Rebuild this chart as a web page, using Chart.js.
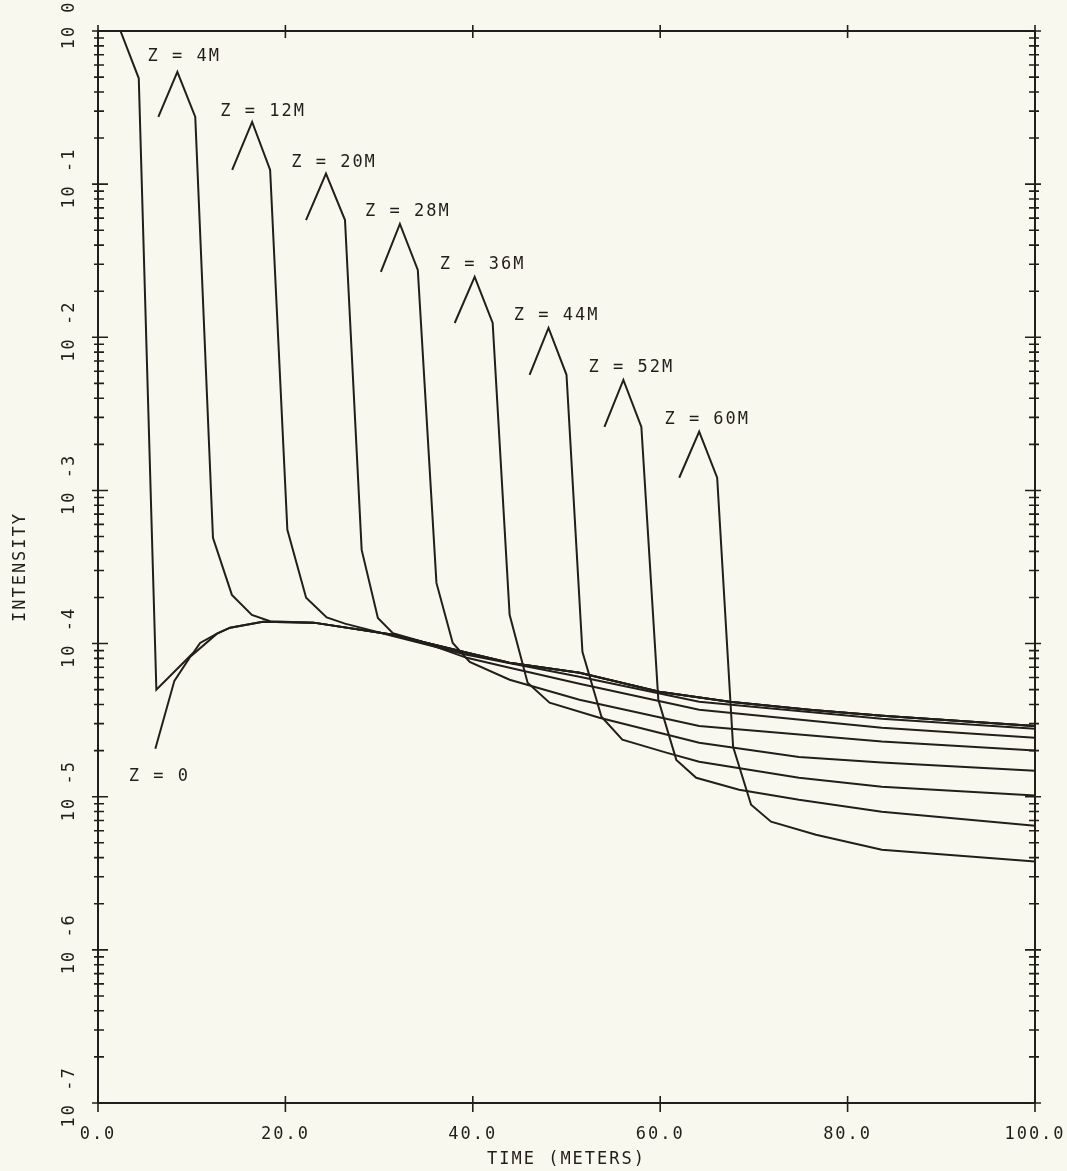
<!DOCTYPE html>
<html>
<head>
<meta charset="utf-8">
<script src="https://cdn.jsdelivr.net/npm/chart.js@4.4.1/dist/chart.umd.min.js"></script>
<style>
  html, body { margin: 0; padding: 0; background: #f9f8ee; }
  canvas { display: block; }
</style>
</head>
<body>
<canvas id="chart" width="1067" height="1171"></canvas>
<script>
// axis ticks
const xTicks = [0, 20, 40, 60, 80, 100];
const yDecades = [-7, -6, -5, -4, -3, -2, -1, 0];

// common tail that the early curves run into (time in m, intensity)
const envT = [10.9, 12.7, 14.1, 17.6, 23.0, 31.5, 39.4, 43.9, 51.4, 59.9, 67.4, 75.9, 83.7, 100];
const envV = [1.01e-4, 1.16e-4, 1.27e-4, 1.39e-4, 1.37e-4, 1.14e-4, 8.71e-5, 7.50e-5, 6.44e-5, 4.84e-5, 4.17e-5, 3.70e-5, 3.38e-5, 2.90e-5];

// source pulse and the Z = 0 curve
const srcT = [0, 2.4, 4.35, 6.23, 10.17];
const srcV = [1, 1, 0.491, 5.0e-5, 8.71e-5];
const z0T = [6.12, 8.15, 9.85];
const z0V = [2.06e-5, 5.71e-5, 8.20e-5];

// the pulses at each depth
const z4T = [6.44, 8.47, 10.38, 12.27, 14.29, 16.42, 18.37];
const z4V = [0.275, 0.540, 0.275, 4.91e-4, 2.08e-4, 1.54e-4, 1.40e-4];
const z12T = [14.32, 16.45, 18.37, 20.21, 22.21, 24.41, 26.36, 31.47, 39.35, 51.38, 64.16, 83.65, 100];
const z12V = [0.124, 0.255, 0.124, 5.53e-4, 1.99e-4, 1.48e-4, 1.35e-4, 1.12e-4, 8.45e-5, 6.07e-5, 4.17e-5, 3.23e-5, 2.78e-5];
const z20T = [22.20, 24.33, 26.36, 28.14, 29.87, 31.47, 34.35, 39.35, 43.93, 51.38, 64.16, 83.65, 100];
const z20V = [0.0583, 0.117, 0.0583, 4.09e-4, 1.47e-4, 1.17e-4, 1.04e-4, 8.07e-5, 6.95e-5, 5.46e-5, 3.70e-5, 2.82e-5, 2.43e-5];
const z28T = [30.19, 32.22, 34.13, 36.12, 37.86, 39.67, 43.93, 51.38, 64.16, 83.65, 100];
const z28V = [0.0267, 0.0550, 0.0275, 2.49e-4, 1.01e-4, 7.60e-5, 5.81e-5, 4.30e-5, 2.90e-5, 2.29e-5, 2.0e-5];
const z36T = [38.07, 40.20, 42.12, 43.93, 45.85, 48.19, 53.51, 64.16, 74.81, 83.65, 100];
const z36V = [0.0124, 0.0248, 0.0124, 1.54e-4, 5.55e-5, 4.11e-5, 3.28e-5, 2.25e-5, 1.82e-5, 1.67e-5, 1.48e-5];
const z44T = [46.06, 48.08, 50.00, 51.70, 53.73, 55.96, 60.65, 64.16, 74.81, 83.65, 100];
const z44V = [5.69e-3, 0.0115, 5.69e-3, 8.83e-5, 3.33e-5, 2.36e-5, 1.94e-5, 1.69e-5, 1.33e-5, 1.16e-5, 1.02e-5];
const z52T = [54.05, 56.07, 57.99, 59.80, 61.72, 63.84, 68.42, 74.81, 83.65, 100];
const z52V = [2.60e-3, 5.27e-3, 2.60e-3, 4.30e-5, 1.74e-5, 1.33e-5, 1.11e-5, 9.55e-6, 7.98e-6, 6.47e-6];
const z60T = [62.03, 64.16, 66.08, 67.78, 69.70, 71.83, 76.62, 83.65, 100];
const z60V = [1.21e-3, 2.42e-3, 1.21e-3, 2.12e-5, 8.87e-6, 6.87e-6, 5.65e-6, 4.51e-6, 3.77e-6];

// curve labels, placed in data units
const labelText = ['Z = 0', 'Z = 4M', 'Z = 12M', 'Z = 20M', 'Z = 28M', 'Z = 36M', 'Z = 44M', 'Z = 52M', 'Z = 60M'];
const labelT = [6.55, 9.21, 17.63, 25.19, 33.07, 41.05, 48.94, 56.92, 65.02];
const labelV = [1.35e-5, 0.676, 0.296, 0.1375, 0.0659, 0.0297, 0.0138, 0.00631, 0.00289];

const ink = '#221e1b';
const font = { family: 'DejaVu Sans Mono', size: 17 };

function toPoints(t, v) {
    return t.map((x, i) => ({ x: x, y: v[i] }));
}

const curves = [
    [srcT.concat(envT), srcV.concat(envV)],
    [z0T.concat(envT.slice(1)), z0V.concat(envV.slice(1))],
    [z4T.concat(envT.slice(4)), z4V.concat(envV.slice(4))],
    [z12T, z12V],
    [z20T, z20V],
    [z28T, z28V],
    [z36T, z36V],
    [z44T, z44V],
    [z52T, z52V],
    [z60T, z60V]
];

const datasets = curves.map(c => ({
    data: toPoints(c[0], c[1]),
    borderColor: ink,
    borderWidth: 2,
    pointRadius: 0,
    tension: 0,
    fill: false
}));

// frame, tick crosses and curve labels
const framePlugin = {
    id: 'frame',
    beforeDraw(chart) {
        chart.ctx.letterSpacing = '2px';
    },
    afterDatasetsDraw(chart) {
        const ctx = chart.ctx;
        const a = chart.chartArea;
        const xs = chart.scales.x;
        const ys = chart.scales.y;
        ctx.save();
        ctx.strokeStyle = ink;
        ctx.lineWidth = 2;
        ctx.strokeRect(a.left, a.top, a.right - a.left, a.bottom - a.top);

        ctx.lineWidth = 1.6;
        ctx.beginPath();
        yDecades.forEach(e => {
            const top = e === 0 ? 1 : 9;
            for (let m = 1; m <= top; m++) {
                const py = ys.getPixelForValue(m * Math.pow(10, e));
                const major = m === 1;
                const o = major ? 6 : 4;
                const i = major ? 10 : 6;
                ctx.moveTo(a.left - o, py); ctx.lineTo(a.left + i, py);
                ctx.moveTo(a.right - i, py); ctx.lineTo(a.right + o, py);
            }
        });
        xTicks.forEach(v => {
            const px = xs.getPixelForValue(v);
            ctx.moveTo(px, a.bottom - 7); ctx.lineTo(px, a.bottom + 9);
            ctx.moveTo(px, a.top - 6); ctx.lineTo(px, a.top + 7);
        });
        ctx.stroke();

        ctx.fillStyle = ink;
        ctx.font = font.size + 'px "' + font.family + '"';
        ctx.textAlign = 'center';
        ctx.textBaseline = 'middle';
        labelText.forEach((txt, k) => {
            ctx.fillText(txt, xs.getPixelForValue(labelT[k]), ys.getPixelForValue(labelV[k]));
        });
        ctx.restore();
    },
    afterDraw(chart) {
        chart.ctx.letterSpacing = '0px';
    }
};

new Chart(document.getElementById('chart'), {
    type: 'line',
    data: { datasets: datasets },
    options: {
        responsive: false,
        animation: false,
        layout: { padding: { top: 31, right: 32, left: 0, bottom: 0 } },
        plugins: {
            legend: { display: false },
            tooltip: { enabled: false }
        },
        scales: {
            x: {
                type: 'linear',
                min: 0,
                max: 100,
                afterBuildTicks: s => { s.ticks = xTicks.map(v => ({ value: v })); },
                afterFit: s => {
                    s.height = 68;
                    s.paddingLeft = 0;
                    s.paddingRight = 0;
                },
                grid: { display: false, drawTicks: false },
                border: { display: false },
                ticks: {
                    font: font,
                    color: ink,
                    padding: 21,
                    maxRotation: 0,
                    callback: v => v.toFixed(1)
                },
                title: {
                    display: true,
                    text: 'TIME (METERS)',
                    font: font,
                    color: ink,
                    padding: { top: 0, bottom: 1 }
                }
            },
            y: {
                type: 'logarithmic',
                min: 1e-7,
                max: 1,
                afterBuildTicks: s => { s.ticks = yDecades.map(e => ({ value: Math.pow(10, e) })); },
                afterFit: s => {
                    s.width = 98;
                    s.paddingTop = 0;
                    s.paddingBottom = 0;
                },
                grid: { display: false, drawTicks: false },
                border: { display: false },
                ticks: {
                    font: font,
                    color: ink,
                    minRotation: 90,
                    maxRotation: 90,
                    crossAlign: 'center',
                    padding: -2,
                    autoSkip: false,
                    // leading space nudges the rotated text up a little, as in the original
                    callback: v => ' 10 ' + Math.round(Math.log10(v))
                },
                title: {
                    display: true,
                    text: 'INTENSITY',
                    font: font,
                    color: ink,
                    padding: { top: 10, bottom: 0 }
                }
            }
        }
    },
    plugins: [framePlugin]
});
</script>
</body>
</html>
